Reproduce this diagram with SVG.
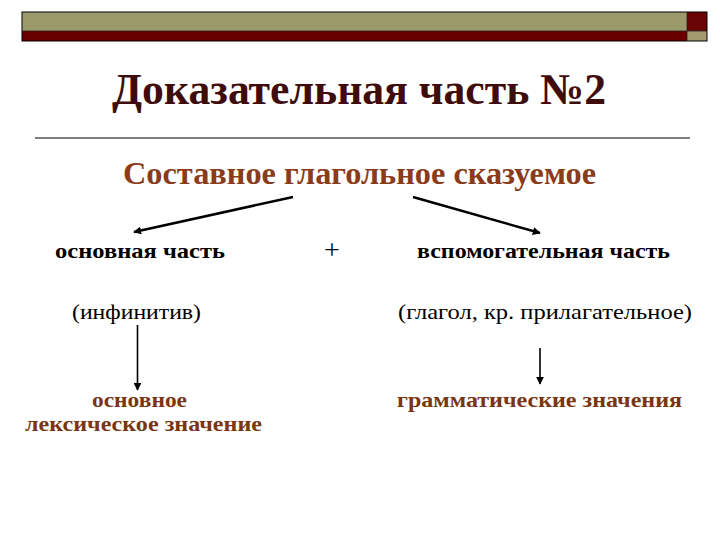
<svg xmlns="http://www.w3.org/2000/svg" width="720" height="540" viewBox="0 0 720 540">
<style>
text{font-family:'Liberation Serif','DejaVu Serif',serif;}
.b{font-weight:bold;}
.title{font-size:44px;fill:#3f0c0c;}
.sub{font-size:31px;fill:#8a3c1a;}
.blk{font-size:22px;fill:#000;}
.brn{font-size:22px;fill:#7a3512;}
.plus{font-size:28px;fill:#000;}
.conn{stroke:#000;fill:none;}
</style>
<defs>
<marker id="ah" viewBox="0 0 10 10" refX="9" refY="5" markerWidth="3.2" markerHeight="3.2" orient="auto" markerUnits="strokeWidth">
<path d="M0,0 L10,5 L0,10 z" fill="#000"/>
</marker>
<marker id="ah2" viewBox="0 0 10 10" refX="9" refY="5" markerWidth="5" markerHeight="5" orient="auto" markerUnits="strokeWidth">
<path d="M0,0 L10,5 L0,10 z" fill="#000"/>
</marker>
</defs>
<rect width="720" height="540" fill="#fff"/>
<g id="header-bar">
<rect x="22" y="12" width="665" height="19" fill="#9c9a6b"/>
<rect x="22" y="31" width="665" height="10" fill="#680000"/>
<rect x="687" y="12" width="20" height="19" fill="#6b0505"/>
<rect x="687" y="31" width="20" height="10" fill="#a39a72"/>
<rect x="22" y="12" width="685" height="29" fill="none" stroke="#000" stroke-width="1"/>
<line x1="22" y1="31" x2="707" y2="31" stroke="#222" stroke-width="0.8"/>
<line x1="687" y1="12" x2="687" y2="41" stroke="#222" stroke-width="0.8"/>
</g>
<g id="title">
<text class="b title" font-family="Liberation Serif, DejaVu Serif, serif" x="112" y="104" textLength="494" lengthAdjust="spacingAndGlyphs">Доказательная часть №2</text>
<line x1="35" y1="138" x2="690" y2="138" stroke="#000" stroke-width="1"/>
</g>
<g id="node-root">
<text class="b sub" font-family="Liberation Serif, DejaVu Serif, serif" x="123" y="184" textLength="473" lengthAdjust="spacingAndGlyphs">Составное глагольное сказуемое</text>
</g>
<g id="node-main">
<text class="b blk" font-family="Liberation Serif, DejaVu Serif, serif" x="55" y="258" textLength="170" lengthAdjust="spacingAndGlyphs">основная  часть</text>
</g>
<g id="node-plus">
<text class="plus" font-family="Liberation Serif, DejaVu Serif, serif" x="332" y="259" text-anchor="middle">+</text>
</g>
<g id="node-aux">
<text class="b blk" font-family="Liberation Serif, DejaVu Serif, serif" x="417" y="258" textLength="253" lengthAdjust="spacingAndGlyphs">вспомогательная часть</text>
</g>
<g id="node-inf">
<text class="blk" font-family="Liberation Serif, DejaVu Serif, serif" x="72" y="319" textLength="129" lengthAdjust="spacingAndGlyphs">(инфинитив)</text>
</g>
<g id="node-verb">
<text class="blk" font-family="Liberation Serif, DejaVu Serif, serif" x="398" y="319" textLength="294" lengthAdjust="spacingAndGlyphs">(глагол, кр. прилагательное)</text>
</g>
<g id="node-lex">
<text class="b brn" font-family="Liberation Serif, DejaVu Serif, serif" x="92" y="407" textLength="95" lengthAdjust="spacingAndGlyphs">основное</text>
<text class="b brn" font-family="Liberation Serif, DejaVu Serif, serif" x="25" y="431" textLength="237" lengthAdjust="spacingAndGlyphs">лексическое значение</text>
</g>
<g id="node-gram">
<text class="b brn" font-family="Liberation Serif, DejaVu Serif, serif" x="397" y="407" textLength="285" lengthAdjust="spacingAndGlyphs">грамматические значения</text>
</g>
<g id="connectors">
<line class="conn" x1="293" y1="197" x2="134" y2="232" stroke-width="2.5" marker-end="url(#ah)"/>
<line class="conn" x1="413" y1="197" x2="540" y2="233" stroke-width="2.5" marker-end="url(#ah)"/>
<line class="conn" x1="137.5" y1="325" x2="137.5" y2="390" stroke-width="1.6" marker-end="url(#ah2)"/>
<line class="conn" x1="540" y1="348" x2="540" y2="384" stroke-width="1.6" marker-end="url(#ah2)"/>
</g>
</svg>
